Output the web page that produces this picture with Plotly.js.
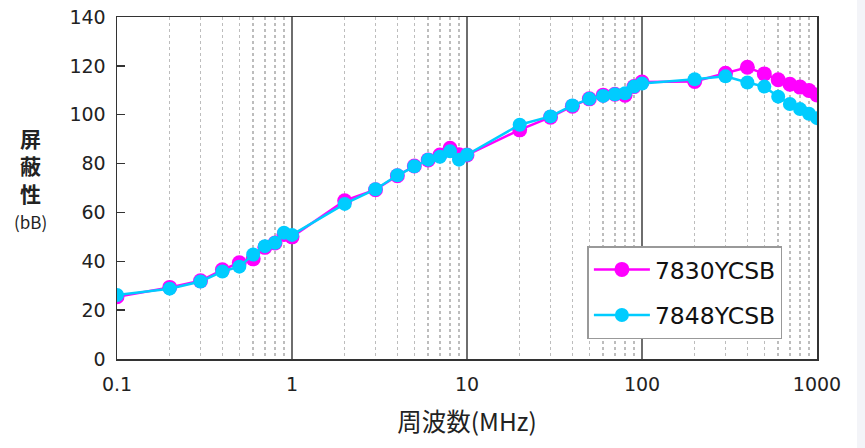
<!DOCTYPE html>
<html>
<head>
<meta charset="utf-8">
<script src="https://cdn.plot.ly/plotly-3.0.1.min.js"></script>
<style>
html,body{margin:0;padding:0;background:#fff;}
#chart{width:865px;height:448px;}
#strip{position:absolute;left:857px;top:0;width:8px;height:448px;background:#f3f4f8;}
</style>
</head>
<body>
<div id="chart"></div>
<div id="strip"></div>
<script>
const freqMHz = [0.1,0.2,0.3,0.4,0.5,0.6,0.7,0.8,0.9,1,2,3,4,5,6,7,8,9,10,20,30,40,50,60,70,80,90,100,200,300,400,500,600,700,800,900,1000];
const s7830 = [25.5,29.3,32,36.5,39.4,41,45.7,47.5,51,50,64.8,69.3,75,79,81.5,83.5,86.3,83.6,83.5,93.8,99,103.5,106.5,108,108.4,108,111.5,113.4,113.6,117,119.4,116.7,114.3,112.5,111.3,109.9,108.1];
const s7848 = [26.2,28.8,31.7,35.8,37.8,42.8,46.2,47.6,51.7,50.8,63.5,69.5,75.2,78.9,81.6,82.8,85,81.6,83.6,95.9,99.3,103.8,106.5,107.7,108.4,108.8,111.5,112.8,114.5,115.7,113.2,111.5,107.4,104.4,102.3,100.4,98.6];
const seriesNames = ["7830YCSB","7848YCSB"];
const xTickVals = [0.1,1,10,100,1000];
const xTickText = ["0.1","1","10","100","1000"];
const xDecades = [0.1,1,10,100];
const minorDigits = [2,3,4,5,6,7,8,9];
const xTitle = "周波数(MHz)";
const yTitleChars = ["屏","蔽","性"];
const yUnit = "(bB)";

const minorVals = [];
xDecades.forEach(d => minorDigits.forEach(k => minorVals.push(+(k * d).toPrecision(3))));

const traces = [
  {x: freqMHz, y: s7830, name: seriesNames[0], mode: "lines+markers", legendgroup: "a",
   line: {color: "#ff00ff", width: 2.5}, marker: {color: "#ff00ff", size: 15}},
  {x: freqMHz, y: s7848, name: seriesNames[1], mode: "lines+markers", legendgroup: "b",
   line: {color: "#00ccff", width: 2.5}, marker: {color: "#00ccff", size: 14}}
];

const tickFont = {family: "DejaVu Sans, sans-serif", size: 19, color: "#222"};

const layout = {
  width: 865, height: 448,
  margin: {l: 116.5, r: 48, t: 17, b: 89},
  paper_bgcolor: "#fff", plot_bgcolor: "#fff",
  font: {family: "DejaVu Sans, sans-serif", color: "#222"},
  showlegend: true,
  legend: {x: 0.672, y: 0.33, xanchor: "left", yanchor: "top",
    bgcolor: "#fff", bordercolor: "#999", borderwidth: 1.5,
    font: {size: 23.5, color: "#111", family: "DejaVu Sans, sans-serif"},
    traceorder: "grouped", tracegroupgap: 12, itemwidth: 56},
  xaxis: {type: "log", range: [-1, 3], tickvals: xTickVals, ticktext: xTickText,
    showgrid: true, gridcolor: "#6e6e6e", gridwidth: 1.5,
    minor: {tickvals: minorVals, showgrid: true, gridcolor: "#bdbdbd", griddash: "dot", gridwidth: 1.5, ticks: ""},
    showline: true, linecolor: "#333", linewidth: 1.5, mirror: true,
    ticks: "", tickfont: tickFont, ticklabelstandoff: 8,
    zeroline: false,
    title: {text: xTitle, font: {size: 24.5, color: "#222", family: "Noto Sans CJK JP, sans-serif"}, standoff: 19}},
  yaxis: {range: [0, 140], dtick: 20, showgrid: false, zeroline: false,
    showline: true, linecolor: "#333", linewidth: 1.5, mirror: true,
    ticks: "inside", ticklen: 8, tickcolor: "#333", tickwidth: 1.5,
    tickfont: tickFont, ticklabelstandoff: 6},
  annotations: [
    {xref: "paper", yref: "paper", x: -0.124, y: 0.527, xanchor: "center", yanchor: "middle",
     showarrow: false, align: "center",
     text: "<b>" + yTitleChars.join("<br>") + "</b><br><span style='font-size:17px'>" + yUnit + "</span>",
     font: {size: 21, color: "#222", family: "Noto Sans CJK JP, sans-serif"}}
  ]
};

Plotly.newPlot("chart", traces, layout, {displayModeBar: false, staticPlot: true});
</script>
</body>
</html>
